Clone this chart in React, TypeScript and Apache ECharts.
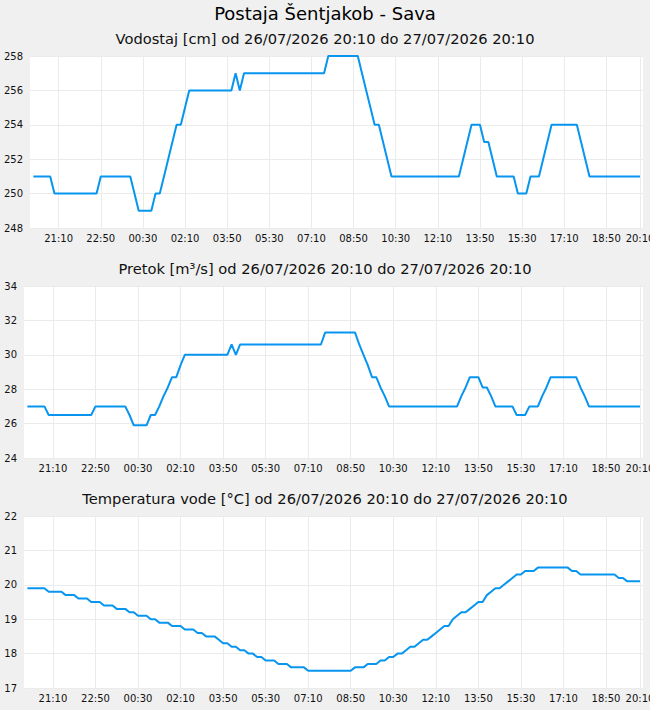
import React, { useEffect, useRef } from "react";
import * as echarts from "echarts";

const STATION = "Postaja Šentjakob - Sava";
const PERIOD = "od 26/07/2026 20:10 do 27/07/2026 20:10";
const PANEL_TITLES = ["Vodostaj [cm]", "Pretok [m³/s]", "Temperatura vode [°C]"];

// Start of the period (26/07/2026 20:10) as minutes after midnight
const START_MINUTE = 20 * 60 + 10;
// Readings every 10 minutes, as minute offsets from the start of the period
const MINUTES = Array.from({ length: 145 }, (_, i) => i * 10);
// Positions of the time ticks (21:10, 22:50, ... 18:50, 20:10)
const TICK_MINUTES = [60, 160, 260, 360, 460, 560, 660, 760, 860, 960, 1060, 1160, 1260, 1360, 1440];

// Water level [cm], one row per hour
const LEVEL_CM = [
  251, 251, 251, 251, 251, 250,
  250, 250, 250, 250, 250, 250,
  250, 250, 250, 250, 251, 251,
  251, 251, 251, 251, 251, 251,
  250, 249, 249, 249, 249, 250,
  250, 251, 252, 253, 254, 254,
  255, 256, 256, 256, 256, 256,
  256, 256, 256, 256, 256, 256,
  257, 256, 257, 257, 257, 257,
  257, 257, 257, 257, 257, 257,
  257, 257, 257, 257, 257, 257,
  257, 257, 257, 257, 258, 258,
  258, 258, 258, 258, 258, 258,
  257, 256, 255, 254, 254, 253,
  252, 251, 251, 251, 251, 251,
  251, 251, 251, 251, 251, 251,
  251, 251, 251, 251, 251, 251,
  252, 253, 254, 254, 254, 253,
  253, 252, 251, 251, 251, 251,
  251, 250, 250, 250, 251, 251,
  251, 252, 253, 254, 254, 254,
  254, 254, 254, 254, 253, 252,
  251, 251, 251, 251, 251, 251,
  251, 251, 251, 251, 251, 251,
  251,
];

// Discharge [m³/s], one row per hour
const FLOW_M3S = [
  27.0, 27.0, 27.0, 27.0, 27.0, 26.5,
  26.5, 26.5, 26.5, 26.5, 26.5, 26.5,
  26.5, 26.5, 26.5, 26.5, 27.0, 27.0,
  27.0, 27.0, 27.0, 27.0, 27.0, 27.0,
  26.5, 25.9, 25.9, 25.9, 25.9, 26.5,
  26.5, 27.0, 27.6, 28.1, 28.7, 28.7,
  29.4, 30.0, 30.0, 30.0, 30.0, 30.0,
  30.0, 30.0, 30.0, 30.0, 30.0, 30.0,
  30.6, 30.0, 30.6, 30.6, 30.6, 30.6,
  30.6, 30.6, 30.6, 30.6, 30.6, 30.6,
  30.6, 30.6, 30.6, 30.6, 30.6, 30.6,
  30.6, 30.6, 30.6, 30.6, 31.3, 31.3,
  31.3, 31.3, 31.3, 31.3, 31.3, 31.3,
  30.6, 30.0, 29.4, 28.7, 28.7, 28.1,
  27.6, 27.0, 27.0, 27.0, 27.0, 27.0,
  27.0, 27.0, 27.0, 27.0, 27.0, 27.0,
  27.0, 27.0, 27.0, 27.0, 27.0, 27.0,
  27.6, 28.1, 28.7, 28.7, 28.7, 28.1,
  28.1, 27.6, 27.0, 27.0, 27.0, 27.0,
  27.0, 26.5, 26.5, 26.5, 27.0, 27.0,
  27.0, 27.6, 28.1, 28.7, 28.7, 28.7,
  28.7, 28.7, 28.7, 28.7, 28.1, 27.6,
  27.0, 27.0, 27.0, 27.0, 27.0, 27.0,
  27.0, 27.0, 27.0, 27.0, 27.0, 27.0,
  27.0,
];

// Water temperature [°C], one row per hour
const TEMP_C = [
  19.9, 19.9, 19.9, 19.9, 19.9, 19.8,
  19.8, 19.8, 19.8, 19.7, 19.7, 19.7,
  19.6, 19.6, 19.6, 19.5, 19.5, 19.5,
  19.4, 19.4, 19.4, 19.3, 19.3, 19.3,
  19.2, 19.2, 19.1, 19.1, 19.1, 19.0,
  19.0, 18.9, 18.9, 18.9, 18.8, 18.8,
  18.8, 18.7, 18.7, 18.7, 18.6, 18.6,
  18.5, 18.5, 18.5, 18.4, 18.3, 18.3,
  18.2, 18.2, 18.1, 18.1, 18.0, 18.0,
  17.9, 17.9, 17.8, 17.8, 17.8, 17.7,
  17.7, 17.7, 17.6, 17.6, 17.6, 17.6,
  17.5, 17.5, 17.5, 17.5, 17.5, 17.5,
  17.5, 17.5, 17.5, 17.5, 17.5, 17.6,
  17.6, 17.6, 17.7, 17.7, 17.7, 17.8,
  17.8, 17.9, 17.9, 18.0, 18.0, 18.1,
  18.2, 18.2, 18.3, 18.4, 18.4, 18.5,
  18.6, 18.7, 18.8, 18.8, 19.0, 19.1,
  19.2, 19.2, 19.3, 19.4, 19.5, 19.5,
  19.7, 19.8, 19.9, 19.9, 20.0, 20.1,
  20.2, 20.3, 20.3, 20.4, 20.4, 20.4,
  20.5, 20.5, 20.5, 20.5, 20.5, 20.5,
  20.5, 20.5, 20.4, 20.4, 20.3, 20.3,
  20.3, 20.3, 20.3, 20.3, 20.3, 20.3,
  20.3, 20.2, 20.2, 20.1, 20.1, 20.1,
  20.1,
];

// Value-axis ranges of the three panels: [min, max, interval]
const Y_RANGES = [
  [248, 258, 2],
  [24, 34, 2],
  [17, 22, 1],
];

const FONT = "'DejaVu Sans', sans-serif";
const LINE_COLOR = "#0795f0";
const GRID_COLOR = "#ebebeb";
const TEXT_COLOR = "#111";

function clockLabel(offset: number): string {
  const t = (((START_MINUTE + offset) % 1440) + 1440) % 1440;
  const h = Math.floor(t / 60);
  const m = Math.round(t % 60);
  return `${String(h).padStart(2, "0")}:${String(m).padStart(2, "0")}`;
}

export default function App() {
  const ref = useRef<HTMLDivElement>(null);

  useEffect(() => {
    if (!ref.current) return;
    const chart = echarts.init(ref.current, undefined, { renderer: "svg" });

    const grids = [
      { left: 30, right: 7, top: 56, height: 172 },
      { left: 24, right: 7, top: 286, height: 172 },
      { left: 24, right: 7, top: 516, height: 172 },
    ].map((g) => ({
      ...g,
      show: true,
      backgroundColor: "#ffffff",
      borderWidth: 0,
      containLabel: false,
      outerBoundsMode: "none" as const,
    }));

    const subtitleTops = [31, 261, 491];
    const seriesValues = [LEVEL_CM, FLOW_M3S, TEMP_C];

    const option: any = {
      animation: false,
      backgroundColor: "#f0f0f0",
      title: [
        {
          text: STATION,
          left: "center",
          top: 4,
          padding: 0,
          textStyle: { fontFamily: FONT, fontSize: 18, fontWeight: "normal", color: "#000" },
        },
        ...PANEL_TITLES.map((name, k) => ({
          text: `${name} ${PERIOD}`,
          left: "center",
          top: subtitleTops[k],
          padding: 0,
          textStyle: { fontFamily: FONT, fontSize: 14.67, fontWeight: "normal", color: "#111" },
        })),
      ],
      grid: grids,
      xAxis: grids.map((_, k) => ({
        type: "value",
        gridIndex: k,
        min: -8,
        max: 1447,
        axisLine: { show: false },
        axisTick: { show: false, customValues: TICK_MINUTES },
        axisLabel: {
          customValues: TICK_MINUTES,
          interval: 0,
          hideOverlap: false,
          margin: 5,
          fontFamily: FONT,
          fontSize: 10,
          color: TEXT_COLOR,
          formatter: (v: number) => clockLabel(v),
        },
        splitLine: { show: true, lineStyle: { color: GRID_COLOR, width: 1 } },
      })),
      yAxis: Y_RANGES.map(([min, max, interval], k) => ({
        type: "value",
        gridIndex: k,
        min,
        max,
        interval,
        axisLine: { show: false },
        axisTick: { show: false },
        axisLabel: { margin: 7, fontFamily: FONT, fontSize: 10, color: TEXT_COLOR },
        splitLine: { show: true, lineStyle: { color: GRID_COLOR, width: 1 } },
      })),
      series: seriesValues.map((values, k) => ({
        type: "line",
        xAxisIndex: k,
        yAxisIndex: k,
        data: MINUTES.map((m, i) => [m, values[i]]),
        showSymbol: false,
        symbol: "none",
        silent: true,
        lineStyle: { color: LINE_COLOR, width: 2 },
        itemStyle: { color: LINE_COLOR },
      })),
    };

    chart.setOption(option);
    return () => chart.dispose();
  }, []);

  return (
    <div
      ref={ref}
      style={{ position: "fixed", left: 0, top: 0, width: 650, height: 710 }}
    />
  );
}
